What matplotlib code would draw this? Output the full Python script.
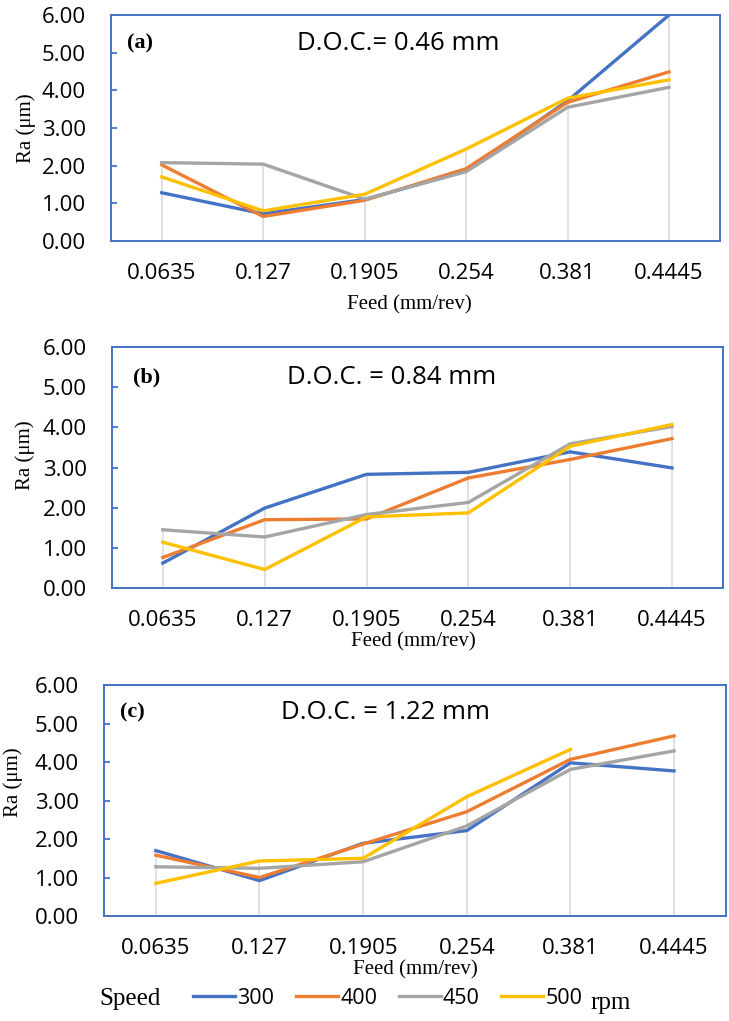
import numpy as np
import matplotlib
matplotlib.use("Agg")
import matplotlib.pyplot as plt

feed = ["0.0635", "0.127", "0.1905", "0.254", "0.381", "0.4445"]
speeds = ["300", "400", "450", "500"]
colors = ["#4472C4", "#ED7D31", "#A5A5A5", "#FFC000"]

# Ra (um) per speed, for each depth of cut
ra_046 = [
    [1.28, 0.72, 1.10, 1.86, 3.72, 6.00],
    [2.02, 0.65, 1.08, 1.92, 3.68, 4.49],
    [2.08, 2.04, 1.11, 1.84, 3.55, 4.08],
    [1.70, 0.80, 1.24, 2.44, 3.79, 4.28],
]
ra_084 = [
    [0.62, 1.99, 2.83, 2.88, 3.39, 2.99],
    [0.76, 1.70, 1.72, 2.74, 3.20, 3.72],
    [1.45, 1.27, 1.83, 2.13, 3.59, 4.02],
    [1.14, 0.46, 1.77, 1.87, 3.53, 4.07],
]
ra_122 = [
    [1.70, 0.92, 1.89, 2.22, 3.98, 3.77],
    [1.58, 1.00, 1.87, 2.71, 4.07, 4.68],
    [1.28, 1.24, 1.41, 2.34, 3.81, 4.29],
    [0.85, 1.43, 1.50, 3.10, 4.33, np.nan],
]

panels = [
    # data, tag, title, axes rect, tag x, title x, text y, ylabel pos, xlabel pos
    (ra_046, "(a)", "D.O.C.= 0.46 mm", [0.1523, 0.764, 0.835, 0.2213], 0.026, 0.472, 0.876, (-0.14, 0.5), (0.49, -0.283)),
    (ra_084, "(b)", "D.O.C. = 0.84 mm", [0.1536, 0.4241, 0.838, 0.236], 0.034, 0.458, 0.875, (-0.142, 0.55), (0.494, -0.224)),
    (ra_122, "(c)", "D.O.C. = 1.22 mm", [0.1427, 0.1028, 0.853, 0.2262], 0.026, 0.452, 0.883, (-0.146, 0.58), (0.50, -0.234)),
]

sans = "Open Sans"
serif = "Liberation Serif"
blue = "#4472C4"

fig = plt.figure(figsize=(7.29, 10.21), dpi=100)

for data, tag, title, rect, tag_x, title_x, text_y, ylab, xlab in panels:
    ax = fig.add_axes(rect)
    x = np.arange(len(feed))
    arr = np.array(data, dtype=float)
    ax.vlines(x, 0, np.nanmax(arr, axis=0), color="#D9D9D9", lw=1.1, zorder=1)
    for vals, c, s in zip(data, colors, speeds):
        ax.plot(x, vals, color=c, lw=2.4, label=s, zorder=3, solid_joinstyle="round")
    ax.set_xlim(-0.5, 5.5)
    ax.set_ylim(0, 6)
    ax.set_yticks(np.arange(0, 7))
    ax.set_yticklabels([f"{v:.2f}" for v in range(7)], fontfamily=sans, fontsize=16)
    ax.set_xticks(x)
    ax.set_xticklabels(feed, fontfamily=sans, fontsize=16)
    ax.tick_params(axis="x", length=0, pad=16)
    ax.tick_params(axis="y", direction="in", length=4, width=1.3, color=blue, pad=18)
    for sp in ax.spines.values():
        sp.set_color(blue)
        sp.set_linewidth(1.4)
    ax.text(tag_x, text_y, tag, transform=ax.transAxes, fontfamily=serif,
            fontweight="bold", fontsize=16, ha="left", va="center")
    ax.text(title_x, text_y, title, transform=ax.transAxes, fontfamily=sans,
            fontsize=18.5, ha="center", va="center")
    ax.text(ylab[0], ylab[1], "Ra (\u03bcm)", transform=ax.transAxes, fontfamily=serif,
            fontsize=15, rotation=90, ha="center", va="center")
    ax.text(xlab[0], xlab[1], "Feed (mm/rev)", transform=ax.transAxes, fontfamily=serif,
            fontsize=15, ha="center", va="center")
    last_ax = ax

handles, labels = last_ax.get_legend_handles_labels()
fig.legend(handles, labels, loc="center", bbox_to_anchor=(0.532, 0.0225), ncol=4,
           frameon=False, handlelength=1.95, handletextpad=0.1, columnspacing=1.0,
           borderpad=0, prop={"family": sans, "size": 15.5})
fig.text(0.178, 0.0215, "Speed", fontfamily=serif, fontsize=18, ha="center", va="center")
fig.text(0.838, 0.0175, "rpm", fontfamily=serif, fontsize=18, ha="center", va="center")

fig.savefig("out.png", dpi=100)
